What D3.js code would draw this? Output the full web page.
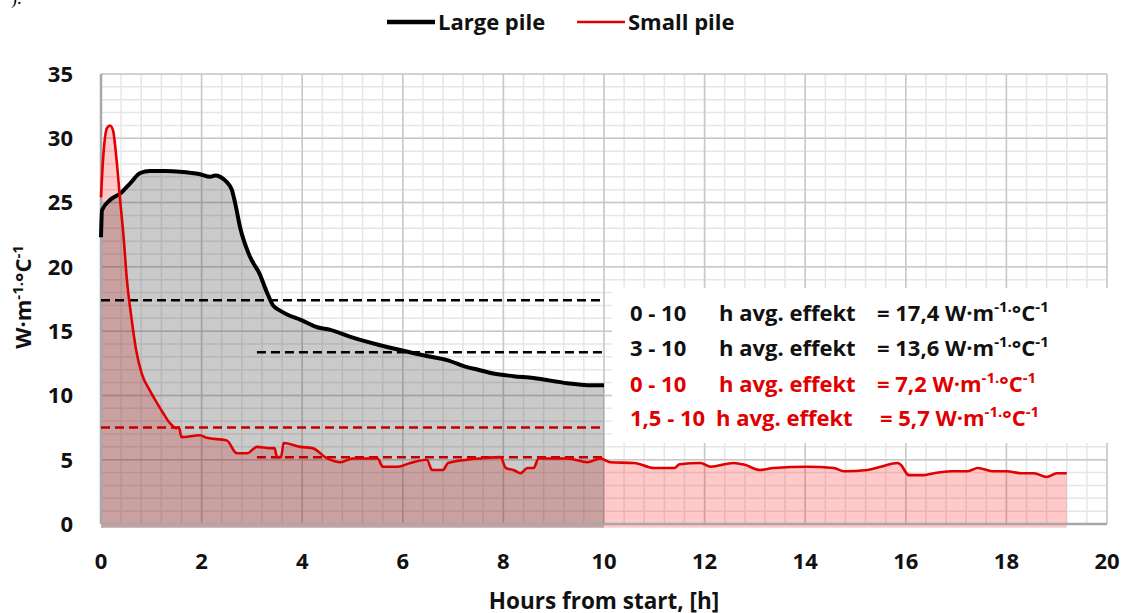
<!DOCTYPE html>
<html><head><meta charset="utf-8">
<script src="https://cdn.jsdelivr.net/npm/d3@7"></script>
<style>
html,body{margin:0;padding:0;background:#fff;}
svg{display:block;font-family:"Open Sans",Lato,sans-serif;font-weight:700;}
</style></head>
<body><svg id="c" width="1123" height="613"></svg>
<script>
// ---- data ----
const largeH = [0, 0.02, 0.18, 0.38, 0.58, 0.78, 0.97, 1.3, 1.57, 1.97, 2.17, 2.27, 2.37, 2.5, 2.6, 2.67, 2.77, 2.96, 3.16, 3.3, 3.42, 3.56, 3.7, 3.96, 4.3, 4.56, 4.96, 5.55, 6.2, 6.5, 6.88, 7.28, 7.5, 7.8, 8.2, 8.6, 9.27, 9.67, 10.0];
const largeV = [22.3, 24.4, 25.2, 25.7, 26.5, 27.3, 27.45, 27.45, 27.4, 27.2, 27.0, 27.1, 27.0, 26.6, 26.0, 24.9, 23.0, 20.8, 19.4, 18.0, 17.0, 16.6, 16.3, 15.9, 15.3, 15.1, 14.55, 13.9, 13.3, 13.05, 12.75, 12.2, 12.0, 11.7, 11.5, 11.35, 10.95, 10.8, 10.8];
const smallH = [0, 0.04, 0.12, 0.18, 0.24, 0.31, 0.38, 0.45, 0.51, 0.61, 0.7, 0.81, 0.97, 1.1, 1.24, 1.37, 1.5, 1.55, 1.6, 1.97, 2.1, 2.5, 2.7, 2.9, 3.1, 3.36, 3.45, 3.5, 3.58, 3.63, 3.96, 4.2, 4.5, 4.76, 5.0, 5.5, 5.6, 5.9, 6.15, 6.48, 6.58, 6.8, 6.9, 7.28, 7.55, 7.94, 8.05, 8.2, 8.34, 8.48, 8.6, 8.7, 9.27, 9.67, 9.93, 10.13, 10.6, 11.0, 11.4, 11.5, 11.92, 12.12, 12.58, 12.8, 13.1, 13.37, 14.05, 14.57, 14.77, 15.24, 15.5, 15.84, 15.9, 16.06, 16.36, 16.56, 16.9, 17.23, 17.43, 17.75, 18.0, 18.3, 18.55, 18.8, 19.0, 19.2];
const smallV = [25.4, 28.3, 30.8, 31.0, 30.6, 28.3, 25.2, 22.3, 19.2, 15.9, 13.5, 11.7, 10.4, 9.5, 8.6, 7.85, 7.45, 7.5, 6.75, 6.9, 6.7, 6.5, 5.5, 5.5, 6.0, 5.9, 5.9, 5.2, 5.2, 6.3, 6.0, 5.9, 5.1, 4.8, 5.1, 5.1, 4.45, 4.45, 4.75, 5.0, 4.2, 4.2, 4.75, 5.0, 5.1, 5.2, 4.35, 4.2, 3.95, 4.35, 4.35, 5.1, 5.1, 4.8, 5.1, 4.8, 4.75, 4.35, 4.35, 4.65, 4.75, 4.45, 4.75, 4.6, 4.2, 4.35, 4.45, 4.35, 4.1, 4.2, 4.45, 4.75, 4.6, 3.8, 3.8, 3.95, 4.1, 4.1, 4.35, 4.1, 4.1, 3.95, 3.95, 3.65, 3.95, 3.95];
// average lines: [start h, end h, drawn value]
const avgStart = [0, 3.1, 0, 3.1];
const avgEnd = [10, 10, 10, 10];
const avgValue = [17.4, 13.35, 7.5, 5.2];
const avgColor = ["#000000", "#000000", "#c00000", "#c00000"];
const noteRange = ["0 - 10", "3 - 10", "0 - 10", "1,5 - 10"];
const noteValue = ["17,4", "13,6", "7,2", "5,7"];
const noteColor = ["#111111", "#111111", "#e00000", "#e00000"];
const xTicks = [0, 2, 4, 6, 8, 10, 12, 14, 16, 18, 20];
const yTicks = [0, 5, 10, 15, 20, 25, 30, 35];
const seriesNames = ["Large pile", "Small pile"];

const svg = d3.select("#c");
const x = d3.scaleLinear().domain([0, 20]).range([101, 1107]);
const y = d3.scaleLinear().domain([0, 35]).range([524, 74]);

// partial cropped text top-left
svg.append("text").attr("x", 11).attr("y", 4).attr("font-size", 18).attr("font-family", "Liberation Serif").attr("font-weight", 400).text(").");

// grid
const g = svg.append("g");
g.append("rect").attr("x", x(0)).attr("y", y(35)).attr("width", x(20) - x(0)).attr("height", y(0) - y(35)).attr("fill", "#fff");
const minorX = d3.range(0, 20.001, 0.4), minorY = d3.range(0, 35.001, 1);
g.selectAll(".mx").data(minorX).join("line").attr("x1", d => x(d)).attr("x2", d => x(d)).attr("y1", y(0)).attr("y2", y(35)).attr("stroke", "#e6e6e6").attr("stroke-width", 1.5);
g.selectAll(".my").data(minorY).join("line").attr("x1", x(0)).attr("x2", x(20)).attr("y1", d => y(d)).attr("y2", d => y(d)).attr("stroke", "#e6e6e6").attr("stroke-width", 1.5);
g.selectAll(".Mx").data(xTicks).join("line").attr("x1", d => x(d)).attr("x2", d => x(d)).attr("y1", y(0)).attr("y2", y(35)).attr("stroke", "#c8c8c8").attr("stroke-width", 1.5);
g.selectAll(".My").data(yTicks).join("line").attr("x1", x(0)).attr("x2", x(20)).attr("y1", d => y(d)).attr("y2", d => y(d)).attr("stroke", "#c8c8c8").attr("stroke-width", 1.5);

// areas
const smallData = smallH.map((h, i) => [h, smallV[i]]);
const largeData = largeH.map((h, i) => [h, largeV[i]]);
const area = d3.area().x(d => x(d[0])).y0(y(-0.3)).y1(d => y(d[1])).curve(d3.curveBasis);
svg.append("path").datum(smallData).attr("d", area).attr("fill", "rgba(255,0,0,0.21)");
svg.append("path").datum(largeData).attr("d", area).attr("fill", "rgba(45,45,45,0.25)");

// axis lines
svg.append("line").attr("x1", x(0)).attr("x2", x(0)).attr("y1", y(35)).attr("y2", y(0)).attr("stroke", "#a8a8a8").attr("stroke-width", 2.5);
svg.append("line").attr("x1", x(0)).attr("x2", x(20)).attr("y1", y(0)).attr("y2", y(0)).attr("stroke", "#a8a8a8").attr("stroke-width", 2.5);

// white annotation box
svg.append("rect").attr("x", 612).attr("y", 288).attr("width", 505).attr("height", 155).attr("fill", "#fff");

// average lines
svg.selectAll(".avg").data(avgValue).join("line")
  .attr("x1", (d, i) => x(avgStart[i])).attr("x2", (d, i) => x(avgEnd[i]))
  .attr("y1", d => y(d)).attr("y2", d => y(d))
  .attr("stroke", (d, i) => avgColor[i]).attr("stroke-width", 2.5).attr("stroke-dasharray", "9,5");

// lines
const line = d3.line().x(d => x(d[0])).y(d => y(d[1])).curve(d3.curveMonotoneX);
svg.append("path").datum(largeData).attr("d", line).attr("fill", "none").attr("stroke", "#000").attr("stroke-width", 4).attr("stroke-linejoin", "round");
svg.append("path").datum(smallData).attr("d", line).attr("fill", "none").attr("stroke", "#e00000").attr("stroke-width", 2.6).attr("stroke-linejoin", "round");

// tick labels
svg.selectAll(".yt").data(yTicks).join("text").attr("x", 73).attr("y", d => y(d)).attr("dy", "0.36em")
  .attr("text-anchor", "end").attr("font-size", 22).attr("fill", "#111").text(d => d);
svg.selectAll(".xt").data(xTicks).join("text").attr("x", d => x(d)).attr("y", 561).attr("dy", "0.36em")
  .attr("text-anchor", "middle").attr("font-size", 22).attr("fill", "#111").text(d => d);

// axis titles
svg.append("text").attr("x", 604).attr("y", 609).attr("text-anchor", "middle").attr("font-size", 22.5).attr("fill", "#111").text("Hours from start, [h]");
const yt = svg.append("text").attr("transform", "translate(31,297) rotate(-90)").attr("text-anchor", "middle").attr("font-size", 22).attr("fill", "#111");
yt.append("tspan").text("W·m");
yt.append("tspan").attr("dy", -8).attr("font-size", 15).text("-1.");
yt.append("tspan").attr("dy", 8).text("°C");
yt.append("tspan").attr("dy", -8).attr("font-size", 15).text("-1");

// annotations
const noteY = [313, 348, 384, 418];
noteY.forEach((ny, i) => {
  const t = svg.append("g").attr("fill", noteColor[i]).attr("font-size", 22);
  t.append("text").attr("x", 630).attr("y", ny).attr("dy", "0.36em").text(noteRange[i]);
  t.append("text").attr("x", i === 3 ? 716 : 719).attr("y", ny).attr("dy", "0.36em").text("h avg. effekt");
  const v = t.append("text").attr("x", i === 3 ? 880 : 877).attr("y", ny).attr("dy", "0.36em");
  v.append("tspan").text("= " + noteValue[i] + " W·m");
  v.append("tspan").attr("dy", -9).attr("font-size", 15).text("-1.");
  v.append("tspan").attr("dy", 9).text("°C");
  v.append("tspan").attr("dy", -9).attr("font-size", 15).text("-1");
});

// legend
const lg = svg.append("g");
lg.append("line").attr("x1", 387).attr("x2", 435).attr("y1", 22).attr("y2", 22).attr("stroke", "#000").attr("stroke-width", 4.5);
lg.append("text").attr("x", 438).attr("y", 22).attr("dy", "0.36em").attr("font-size", 22).attr("fill", "#111").text(seriesNames[0]);
lg.append("line").attr("x1", 577).attr("x2", 625).attr("y1", 22).attr("y2", 22).attr("stroke", "#e00000").attr("stroke-width", 2.5);
lg.append("text").attr("x", 628).attr("y", 22).attr("dy", "0.36em").attr("font-size", 22).attr("fill", "#111").text(seriesNames[1]);
</script></body></html>
